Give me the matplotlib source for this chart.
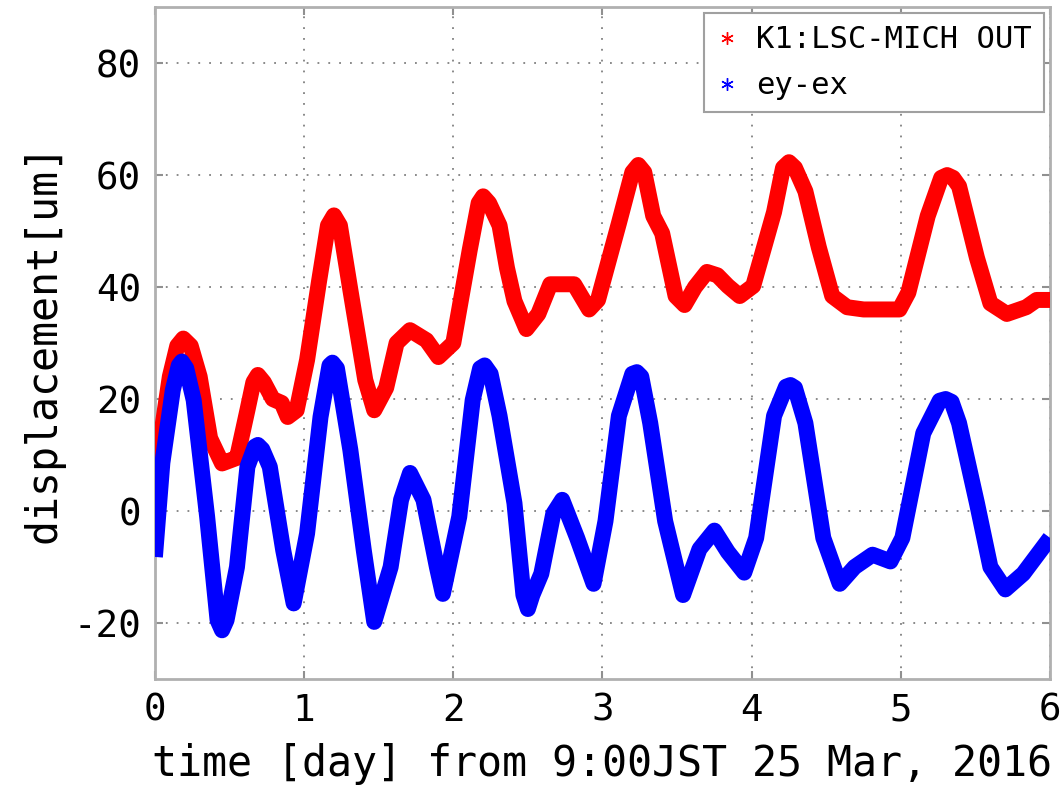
import numpy as np
import matplotlib
matplotlib.use("Agg")
import matplotlib.pyplot as plt
from matplotlib.lines import Line2D

plt.rcParams['font.family'] = ['DejaVu Sans Mono']
plt.rcParams['axes.unicode_minus'] = False

# K1:LSC-MICH OUT (red)
mich_t = [0.0, 0.05, 0.1, 0.15, 0.19, 0.24, 0.3, 0.37, 0.45, 0.5, 0.55, 0.62, 0.66,
          0.69, 0.73, 0.79, 0.85, 0.89, 0.95, 1.02, 1.1, 1.16, 1.2, 1.24, 1.31,
          1.41, 1.47, 1.55, 1.62, 1.71, 1.82, 1.9, 2.0, 2.11, 2.17, 2.2, 2.24,
          2.31, 2.36, 2.41, 2.49, 2.57, 2.65, 2.81, 2.91, 2.97, 3.11, 3.2, 3.24,
          3.28, 3.34, 3.40, 3.49, 3.55, 3.62, 3.70, 3.77, 3.84, 3.92, 4.01, 4.15,
          4.21, 4.25, 4.29, 4.36, 4.45, 4.54, 4.64, 4.75, 4.99, 5.05, 5.18, 5.27,
          5.31, 5.35, 5.39, 5.51, 5.60, 5.71, 5.84, 5.91, 6.0]
mich_y = [2.5, 15, 24, 29.5, 30.8, 29.5, 24, 13, 8.5, 9, 9.5, 18, 23,
          24.3, 23, 20, 19.3, 16.8, 18, 27, 41, 51, 52.8, 51, 39.5,
          23.4, 18, 22, 30, 32.3, 30.5, 27.5, 30, 46.6, 55, 56.2, 55,
          51, 43.4, 37.5, 32.5, 35.2, 40.5, 40.5, 36, 37.7, 51.4, 60.5, 61.8,
          60.5, 52.7, 49.6, 38.4, 36.8, 40, 42.7, 42.1, 40.2, 38.4, 40.2, 53.4,
          61.3, 62.3, 61.3, 57.1, 47.1, 38.4, 36.4, 36, 36, 39, 52.7, 59.5,
          60, 59.5, 58, 45.2, 37.1, 35.2, 36.4, 37.7, 37.7]

# ey-ex (blue)
eyex_t = [0.0, 0.05, 0.12, 0.16, 0.18, 0.21, 0.26, 0.35, 0.42, 0.45, 0.48, 0.55,
          0.62, 0.67, 0.69, 0.72, 0.77, 0.86, 0.93, 1.02, 1.11, 1.17, 1.19, 1.22,
          1.31, 1.40, 1.47, 1.58, 1.65, 1.71, 1.80, 1.89, 1.93, 2.04, 2.13, 2.18,
          2.21, 2.25, 2.31, 2.41, 2.47, 2.50, 2.53, 2.59, 2.67, 2.73, 2.83, 2.94,
          3.02, 3.11, 3.2, 3.23, 3.26, 3.32, 3.42, 3.54, 3.65, 3.75, 3.84, 3.95,
          4.03, 4.15, 4.23, 4.26, 4.29, 4.36, 4.48, 4.59, 4.69, 4.81, 4.93, 5.01,
          5.15, 5.26, 5.30, 5.34, 5.39, 5.51, 5.60, 5.70, 5.82, 6.0]
eyex_y = [-8.2, 8.6, 21.6, 26, 26.7, 25.5, 19.8, -1, -19.5, -21.3, -19.5, -10,
          7.9, 11.5, 11.8, 11, 7.9, -7, -16.5, -4, 16.8, 26, 26.5, 25.5,
          10.9, -7, -19.8, -10, 2, 6.8, 2, -10, -14.8, -1, 19.8, 25.5,
          26, 24.5, 17, 1.4, -15, -17.5, -15, -11.2, -0.5, 2, -4.8, -13,
          -1.8, 17, 24.5, 24.8, 24, 15.7, -1.8, -15, -6.8, -3.5, -7.3, -11,
          -4.8, 17, 22.2, 22.5, 22, 15.7, -4.8, -13, -10, -7.8, -9, -4.8,
          13.9, 19.7, 20, 19.5, 15.7, 1.4, -10, -14, -11.2, -4.8]

fig = plt.figure(figsize=(10.61, 8.09), dpi=100)
ax = fig.add_axes([0.146, 0.1607, 0.8437, 0.8305])

ax.plot(mich_t, mich_y, color='#ff0000', lw=11.5, solid_joinstyle='round',
        solid_capstyle='butt', zorder=3)
ax.plot(eyex_t, eyex_y, color='#0000ff', lw=11.5, solid_joinstyle='round',
        solid_capstyle='butt', zorder=3)

ax.set_xlim(0, 6)
ax.set_ylim(-30, 90)
ax.set_xticks(range(0, 7))
ax.set_yticks(range(-20, 81, 20))
ax.grid(True, color='#808080', linestyle=(0, (1, 5)), linewidth=1.3)
ax.tick_params(direction='in', length=6, width=1.5, color='#909090',
               top=True, right=True, labelsize=27, pad=10)
for sp in ax.spines.values():
    sp.set_color('#b0b0b0')
    sp.set_linewidth(2)

ax.set_xlabel('time [day] from 9:00JST 25 Mar, 2016', fontsize=30, labelpad=10)
ax.set_ylabel('displacement[um]', fontsize=30, labelpad=6)

handles = [Line2D([], [], color='#ff0000', marker=(6, 2, 0), ls='none', markersize=9),
           Line2D([], [], color='#0000ff', marker=(6, 2, 0), ls='none', markersize=9)]
leg = ax.legend(handles, ['K1:LSC-MICH OUT', 'ey-ex'], loc='upper right',
                fontsize=22, fancybox=False, framealpha=1, edgecolor='#a0a0a0',
                handlelength=0.7, handletextpad=0.6, borderaxespad=0.2,
                labelspacing=0.55, borderpad=0.4)
leg.get_frame().set_linewidth(1.5)

fig.savefig('out.png', dpi=100)
